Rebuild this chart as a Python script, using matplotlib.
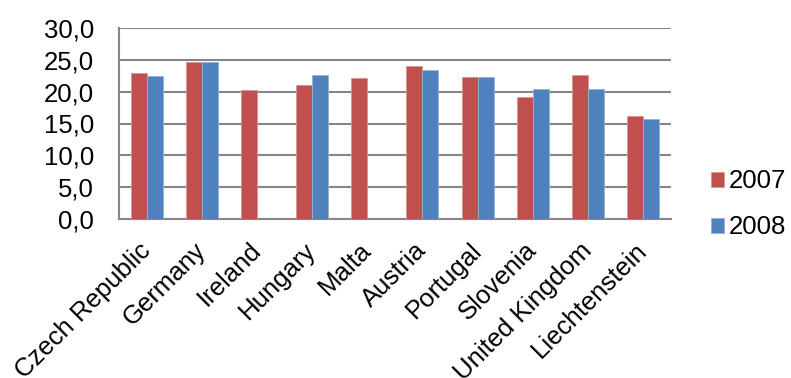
import matplotlib.pyplot as plt
import matplotlib.transforms as mtransforms
import numpy as np

plt.rcParams['font.family'] = ['Liberation Sans', 'DejaVu Sans']

countries = ['Czech Republic', 'Germany', 'Ireland', 'Hungary', 'Malta',
             'Austria', 'Portugal', 'Slovenia', 'United Kingdom', 'Liechtenstein']
values_2007 = [22.9, 24.7, 20.3, 21.0, 22.1, 24.1, 22.3, 19.2, 22.6, 16.2]
values_2008 = [22.5, 24.7, np.nan, 22.6, np.nan, 23.4, 22.3, 20.4, 20.4, 15.7]
yticks = [0, 5, 10, 15, 20, 25, 30]

fig = plt.figure(figsize=(7.91, 3.78), dpi=100)
ax = fig.add_axes([119 / 791, 1 - 218.7 / 378, (670.7 - 119) / 791, (218.7 - 28.3) / 378])

x = np.arange(len(countries))
w = 0.29
ax.bar(x - w / 2, values_2007, w, color='#C0504D', edgecolor='#D99694', linewidth=0.6, label='2007', zorder=3)
ax.bar(x + w / 2, values_2008, w, color='#4F81BD', edgecolor='#95B3D7', linewidth=0.6, label='2008', zorder=3)

ax.set_xlim(-0.5, len(countries) - 0.5)
ax.set_ylim(0, 30)
ax.set_yticks(yticks)
ax.set_yticklabels(['%d,0' % t for t in yticks], fontsize=18.5)
ax.yaxis.grid(True, color='#868686', linewidth=1.5, zorder=0)
ax.set_axisbelow(True)

ax.set_xticks(x)
ax.set_xticklabels(countries, fontsize=18.5, rotation=45, ha='right', va='top',
                   rotation_mode='anchor')
ax.tick_params(axis='x', length=0, pad=14)
ax.tick_params(axis='y', length=0, pad=18)
shift = mtransforms.ScaledTranslation(-8 / 100, 0, fig.dpi_scale_trans)
for lbl in ax.get_xticklabels():
    lbl.set_transform(lbl.get_transform() + shift)

for s in ['top', 'right']:
    ax.spines[s].set_visible(False)
for s in ['left', 'bottom']:
    ax.spines[s].set_color('#868686')
    ax.spines[s].set_linewidth(1.5)

ax.legend(loc='center left', bbox_to_anchor=(1.073, 0.075), frameon=False, fontsize=18.5,
          handlelength=0.5, handleheight=0.5, handletextpad=0.2, labelspacing=0.85,
          borderaxespad=0, borderpad=0)

fig.savefig('out.png', dpi=100)
